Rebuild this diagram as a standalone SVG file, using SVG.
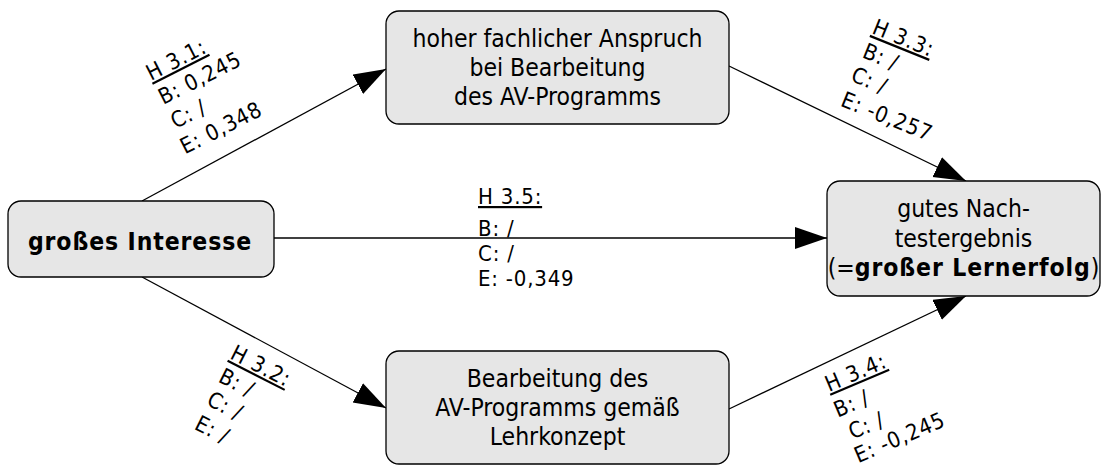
<svg xmlns="http://www.w3.org/2000/svg" width="1106" height="468" viewBox="0 0 1106 468">
  <style>
    .node rect { fill: #e6e6e6; stroke: #000; stroke-width: 1.3; }
    .node text { font-family: "DejaVu Sans Condensed", "DejaVu Sans", sans-serif; font-stretch: condensed; font-size: 24.5px; fill: #000; text-anchor: middle; }
    .b { font-weight: bold; letter-spacing: 0.9px; }
    .edge { fill: none; stroke: #000; stroke-width: 1.3; marker-end: url(#arrow); }
    .lbl { font-family: "DejaVu Sans Condensed", "DejaVu Sans", sans-serif; font-stretch: condensed; font-size: 22px; fill: #000; letter-spacing: 0.8px; }
    .u { text-decoration: underline; }
  </style>
  <defs>
    <marker id="arrow" markerUnits="userSpaceOnUse" markerWidth="34" markerHeight="24" refX="32" refY="11" orient="auto">
      <path d="M0,0 L32,11 L0,22 Z" fill="#000"/>
    </marker>
  </defs>

  <rect width="1106" height="468" fill="#fff"/>

  <g id="connectors">
    <line class="edge" x1="142" y1="201" x2="386" y2="69"/>
    <line class="edge" x1="274" y1="238" x2="827" y2="238"/>
    <line class="edge" x1="142" y1="277" x2="386" y2="408"/>
    <line class="edge" x1="729" y1="66" x2="966" y2="181"/>
    <line class="edge" x1="729" y1="409" x2="966" y2="296"/>
  </g>

  <g id="edge-labels">
    <g id="label-h31" transform="translate(151,81) rotate(-27)">
      <text class="lbl"><tspan class="u" x="0" y="0">H 3.1:</tspan><tspan x="0" y="27">B: 0,245</tspan><tspan x="0" y="54">C: /</tspan><tspan x="-3" y="81">E: 0,348</tspan></text>
    </g>
    <g id="label-h32" transform="translate(229,358) rotate(27)">
      <text class="lbl"><tspan class="u" x="0" y="0">H 3.2:</tspan><tspan x="0" y="26">B: /</tspan><tspan x="0" y="52">C: /</tspan><tspan x="0" y="79">E: /</tspan></text>
    </g>
    <g id="label-h33" transform="translate(871,33) rotate(22)">
      <text class="lbl"><tspan class="u" x="0" y="0">H 3.3:</tspan><tspan x="0" y="26">B: /</tspan><tspan x="-2" y="52">C: /</tspan><tspan x="-2" y="79">E: -0,257</tspan></text>
    </g>
    <g id="label-h34" transform="translate(829,392) rotate(-23)">
      <text class="lbl"><tspan class="u" x="0" y="0">H 3.4:</tspan><tspan x="-2" y="27">B: /</tspan><tspan x="3" y="53">C: /</tspan><tspan x="-1" y="77">E: -0,245</tspan></text>
    </g>
    <g id="label-h35">
      <text class="lbl"><tspan class="u" x="478" y="204">H 3.5:</tspan><tspan x="478" y="236">B: /</tspan><tspan x="478" y="261">C: /</tspan><tspan x="478" y="286">E: -0,349</tspan></text>
    </g>
  </g>

  <g id="node-interesse" class="node">
    <rect x="8" y="201" width="266" height="76" rx="13"/>
    <text class="b" x="140" y="250">großes Interesse</text>
  </g>

  <g id="node-anspruch" class="node">
    <rect x="386" y="11" width="343" height="113" rx="13"/>
    <text x="557.5" y="47">hoher fachlicher Anspruch</text>
    <text x="557.5" y="76">bei Bearbeitung</text>
    <text x="557.5" y="105">des AV-Programms</text>
  </g>

  <g id="node-lehrkonzept" class="node">
    <rect x="386" y="351" width="343" height="113" rx="13"/>
    <text x="557.5" y="387">Bearbeitung des</text>
    <text x="557.5" y="416">AV-Programms gemäß</text>
    <text x="557.5" y="445">Lehrkonzept</text>
  </g>

  <g id="node-nachtest" class="node">
    <rect x="827" y="181" width="273" height="115" rx="13"/>
    <text x="963.5" y="217">gutes Nach-</text>
    <text x="963.5" y="246.5">testergebnis</text>
    <text x="963.5" y="276">(=<tspan class="b">großer Lernerfolg</tspan>)</text>
  </g>
</svg>
